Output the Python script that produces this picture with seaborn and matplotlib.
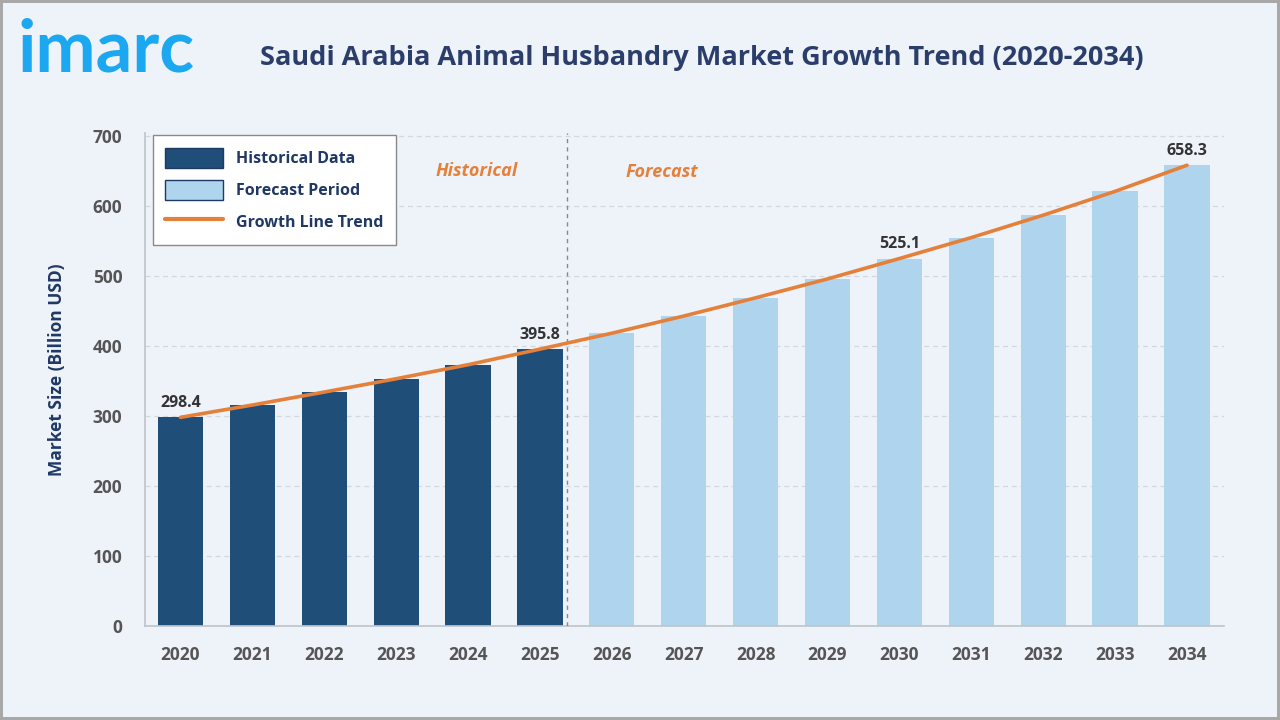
import matplotlib
matplotlib.use("Agg")
import matplotlib.pyplot as plt
import seaborn as sns
import pandas as pd
import numpy as np
from matplotlib.patches import Patch
from matplotlib.lines import Line2D

years = ["2020", "2021", "2022", "2023", "2024", "2025", "2026", "2027",
         "2028", "2029", "2030", "2031", "2032", "2033", "2034"]
values = [298.4, 316.0, 334.5, 353.5, 373.5, 395.8, 418.5, 443.0,
          469.0, 496.0, 525.1, 555.0, 587.0, 621.0, 658.3]
periods = ["Historical Data"] * 6 + ["Forecast Period"] * 9
labeled_years = ["2020", "2025", "2030", "2034"]
yticks = [0, 100, 200, 300, 400, 500, 600, 700]

BG = "#EEF3F9"
DARK = "#1F4E79"
LIGHT = "#AED4EE"
ORANGE = "#E4803A"
NAVY = "#1F3864"
TICK = "#555555"

sns.set_theme(style="white")
plt.rcParams["font.family"] = ["Open Sans", "DejaVu Sans"]

df = pd.DataFrame({"Year": years, "Value": values, "Period": periods})

fig = plt.figure(figsize=(12.8, 7.2), dpi=100, facecolor=BG,
                 edgecolor="#A8A8A8", linewidth=3)
ax = fig.add_axes([0.1129, 0.130, 0.8431, 0.685])
ax.set_facecolor(BG)

sns.barplot(data=df, x="Year", y="Value", hue="Period",
            palette={"Historical Data": DARK, "Forecast Period": LIGHT},
            dodge=False, width=0.63, saturation=1, legend=False, ax=ax,
            linewidth=0, edgecolor="none", zorder=2)

sns.lineplot(x=np.arange(len(years)), y=values, color=ORANGE, linewidth=2.6,
             ax=ax, zorder=4)

for i, (yr, v) in enumerate(zip(years, values)):
    if yr in labeled_years:
        ax.text(i, v + 9, f"{v:.1f}", ha="center", va="bottom",
                fontsize=11.5, fontweight="bold", color="#333333", zorder=5)

ax.set_xlim(-0.50, 14.51)
ax.set_ylim(0, 704)
ax.set_yticks(yticks)
ax.yaxis.grid(True, linestyle=(0, (4, 3)), color="#D3D8DF", linewidth=0.9)
ax.set_axisbelow(True)
for s in ["top", "right"]:
    ax.spines[s].set_visible(False)
ax.spines["left"].set_color("#BFC5CC")
ax.spines["bottom"].set_color("#BFC5CC")
ax.tick_params(axis="both", length=0, labelsize=12.5, labelcolor=TICK)
ax.tick_params(axis="x", pad=14)
ax.tick_params(axis="y", pad=16)
for lbl in ax.get_xticklabels() + ax.get_yticklabels():
    lbl.set_fontweight("bold")
ax.set_xlabel("")
ax.set_ylabel("Market Size (Billion USD)", fontsize=12.5, fontweight="bold",
              color=NAVY)
ax.yaxis.set_label_coords(-0.073, 0.52)

ax.axvline(5.38, color="#888888", linestyle=(0, (3, 3)), linewidth=1, zorder=3)
ax.text(4.12, 650, "Historical", ha="center", va="center", fontsize=13,
        fontweight="bold", fontstyle="italic", color=ORANGE)
ax.text(6.69, 649, "Forecast", ha="center", va="center", fontsize=13,
        fontweight="bold", fontstyle="italic", color=ORANGE)

handles = [Patch(facecolor=DARK, edgecolor=NAVY, label="Historical Data"),
           Patch(facecolor=LIGHT, edgecolor=NAVY, label="Forecast Period"),
           Line2D([0], [0], color=ORANGE, linewidth=3, label="Growth Line Trend")]
leg = ax.legend(handles=handles, loc="upper left", bbox_to_anchor=(0.0075, 0.996),
                frameon=True, fancybox=False, edgecolor="#8A8A8A", facecolor="white",
                framealpha=1, fontsize=11.5, handlelength=3.6, handleheight=1.6,
                handletextpad=0.8, borderpad=0.8, labelspacing=0.7,
                borderaxespad=0)
leg.get_frame().set_linewidth(1)
for t in leg.get_texts():
    t.set_color(NAVY)
    t.set_fontweight("bold")

fig.text(0.548, 0.919, "Saudi Arabia Animal Husbandry Market Growth Trend (2020-2034)",
         ha="center", va="center", fontsize=19.5, fontweight="bold", color="#2B3E6B")
fig.text(0.014, 0.9, "imarc", ha="left", va="baseline", fontsize=52,
         fontweight="bold", color="#1BA8F0", family=["Lato", "DejaVu Sans"])

fig.savefig("out.png", dpi=100, facecolor=BG, edgecolor=fig.get_edgecolor())
